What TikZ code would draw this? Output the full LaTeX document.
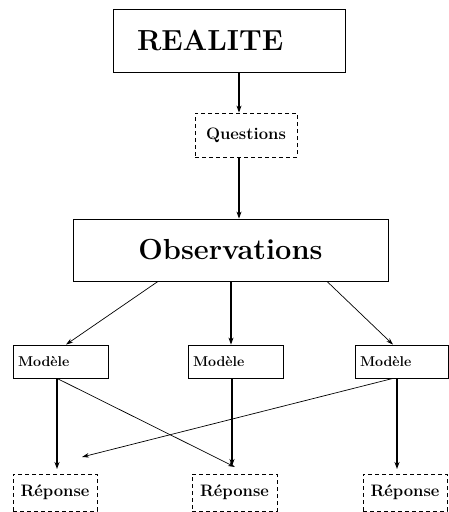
\documentclass[tikz,border=0pt]{standalone}
\usetikzlibrary{arrows.meta}
\begin{document}
\begin{tikzpicture}[x=1pt,y=-1pt,
  box/.style={draw,line width=0.8pt,inner sep=0pt},
  dbox/.style={box,dash pattern=on 4pt off 3pt},
  thick arr/.style={line width=1.4pt,-{Stealth[length=7pt,width=5pt]}},
  thin arr/.style={line width=0.7pt,-{Stealth[length=7pt,width=4.5pt]}},
  big/.style={font=\fontsize{29}{34}\selectfont\bfseries},
  mid/.style={font=\fontsize{16.6}{19}\selectfont\bfseries},
  small/.style={font=\fontsize{14.2}{16}\selectfont\bfseries}]
\useasboundingbox (0,0) rectangle (449,512);
% boxes
\node[box,big,minimum height=63pt,inner xsep=24pt,text width=184pt,align=left] (realite) at (229,40.5) {REALITE};
\node[dbox,mid,minimum width=102pt,minimum height=44pt] (questions) at (246,135) {Questions};
\node[box,big,minimum width=315pt,minimum height=62pt] (obs) at (230.5,250) {Observations};
\node[box,small,minimum height=33pt,inner xsep=5pt,text width=85pt,align=left] (m1) at (60.5,361.5) {Modèle};
\node[box,small,minimum height=33pt,inner xsep=5pt,text width=85pt,align=left] (m2) at (235.5,361.5) {Modèle};
\node[box,small,minimum height=33pt,inner xsep=5pt,text width=83pt,align=left] (m3) at (401.5,361.5) {Modèle};
\node[dbox,mid,minimum width=84pt,minimum height=37pt] (r1) at (55,492.5) {Réponse};
\node[dbox,mid,minimum width=85pt,minimum height=37pt] (r2) at (234.5,492.5) {Réponse};
\node[dbox,mid,minimum width=84pt,minimum height=37pt] (r3) at (405,492.5) {Réponse};
% connectors
\draw[thick arr] (realite.south -| 239,0) -- (questions.north -| 239,0);
\draw[thick arr] (questions.south -| 239,0) -- (obs.north -| 239,0);
\draw[thin arr] (obs.south -| 158,0) -- (m1.north -| 66,0);
\draw[thick arr] (obs.south -| 231,0) -- (m2.north -| 231,0);
\draw[thin arr] (obs.south -| 327,0) -- (m3.north -| 393,0);
\coordinate (e1) at (57,469);
\coordinate (e2) at (235,467);
\coordinate (e3) at (232,466);
\coordinate (e4) at (397,469);
\coordinate (e5) at (82,457);
\draw[thick arr] (m1.south -| 57,0) -- (e1);
\draw[thin arr] (m1.south -| 57,0) -- (e2);
\draw[thick arr] (m2.south -| 232,0) -- (e3);
\draw[thick arr] (m3.south -| 397,0) -- (e4);
\draw[thin arr] (m3.south -| 393,0) -- (e5);
\end{tikzpicture}
\end{document}
